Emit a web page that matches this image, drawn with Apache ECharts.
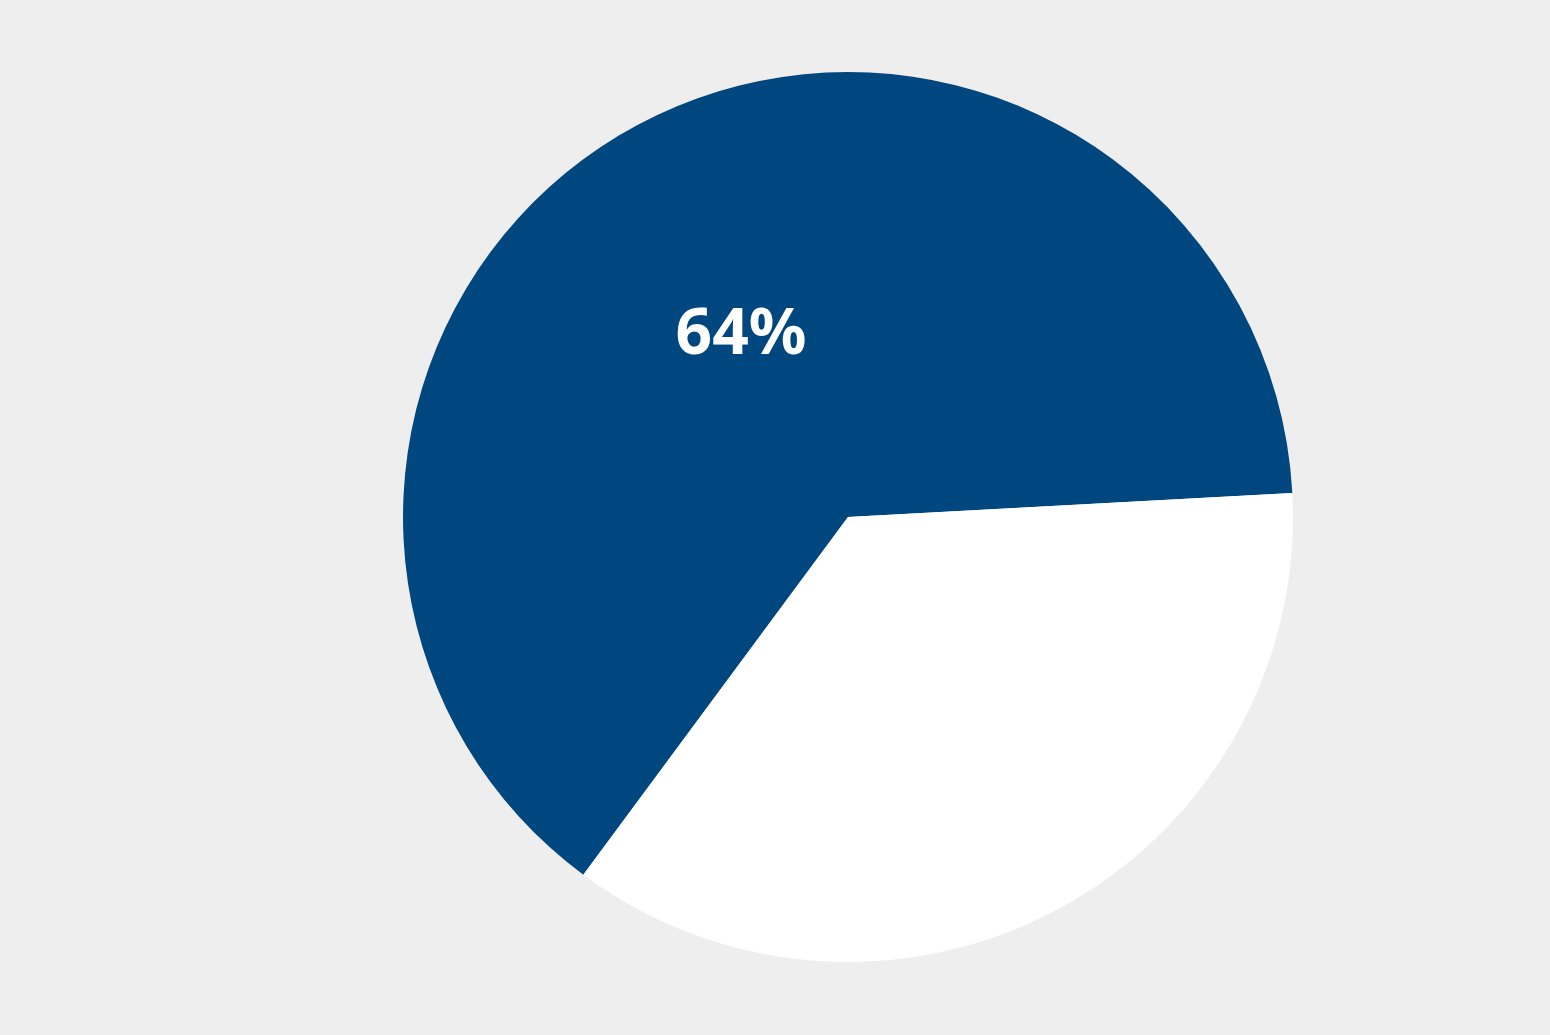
<!DOCTYPE html>
<html>
<head>
<meta charset="utf-8">
<script src="https://cdn.jsdelivr.net/npm/echarts@6/dist/echarts.min.js"></script>
<style>
  html, body { margin: 0; padding: 0; background: #eeeeee; }
  #chart { width: 1550px; height: 1035px; }
</style>
</head>
<body>
<div id="chart"></div>
<script>
// slice names and shares
var sliceNames = ['share', 'rest'];
var sliceValues = [64, 36];
var sliceColors = ['#00477f', '#ffffff'];

var myChart = echarts.init(document.getElementById('chart'));
var option = {
    backgroundColor: '#eeeeee',
    animation: false,
    series: [{
        type: 'pie',
        center: [848, 517],
        radius: [0, 445],
        startAngle: 233.5,
        clockwise: true,
        data: sliceNames.map(function (n, i) {
            return {
                name: n,
                value: sliceValues[i],
                itemStyle: { color: sliceColors[i] },
                label: { show: i === 0 }
            };
        }),
        label: {
            position: 'inside',
            formatter: '{c}%',
            color: '#ffffff',
            fontFamily: 'Noto Sans',
            fontWeight: 'bold',
            fontSize: 64,
            offset: [0, 17]
        },
        labelLine: { show: false },
        emphasis: { disabled: true }
    }]
};
myChart.setOption(option);

window.addEventListener('resize', function () {
    myChart.resize();
});
</script>
</body>
</html>
